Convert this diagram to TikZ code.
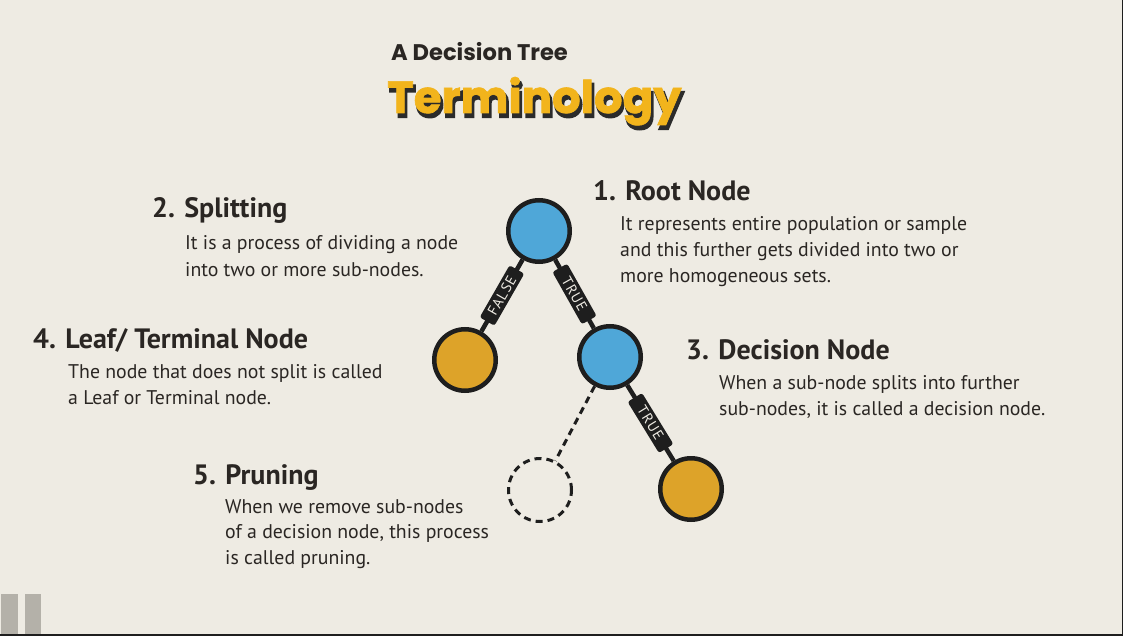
\documentclass[tikz,border=0pt]{standalone}
\usepackage{fontspec}
\setmainfont{PT Sans}
\newfontfamily\titlefont{Poppins}
\newfontfamily\termfont{Poppins}[BoldFeatures={FakeBold=1.5}]
\newfontfamily\termshadowfont{Poppins}[BoldFeatures={FakeBold=5}]
\newfontfamily\tagfont{PT Sans}[LetterSpace=7]
\usetikzlibrary{calc}

\definecolor{paper}{HTML}{EEEBE3}
\definecolor{ink}{HTML}{2A2623}
\definecolor{nodeblue}{HTML}{4FA7D8}
\definecolor{nodegold}{HTML}{DDA329}
\definecolor{titlegold}{HTML}{F2B41C}
\definecolor{edgeblack}{HTML}{1E1E1E}
\definecolor{shadowink}{HTML}{2B2B2B}
\definecolor{bargray}{HTML}{B4B1A9}

\begin{document}
\begin{tikzpicture}[x=1pt,y=-1pt,
  treenode/.style={circle, draw=edgeblack, line width=4.5pt, minimum size=61.5pt, inner sep=0pt},
  bluenode/.style={treenode, fill=nodeblue},
  goldnode/.style={treenode, fill=nodegold},
  prunednode/.style={circle, draw=edgeblack, line width=3pt, dash pattern=on 7pt off 5pt, minimum size=63pt, inner sep=0pt},
  branch/.style={draw=edgeblack, line width=4.5pt},
  cutbranch/.style={draw=edgeblack, line width=3pt, dash pattern=on 7pt off 5pt},
  branchlabel/.style={sloped, fill=edgeblack, text=paper, rounded corners=2.5pt,
    font=\tagfont\fontsize{14.5}{14.5}\selectfont, minimum width=60pt, minimum height=17pt, inner sep=0.5pt},
  heading/.style={anchor=base west, text=ink, inner sep=0pt, font=\bfseries\fontsize{28}{28}\selectfont},
  body/.style={anchor=base west, text=ink, inner sep=0pt, font=\fontsize{19.8}{19.8}\selectfont},
  termtext/.style={anchor=base west, inner sep=0pt},
]
% paper background and frame
\useasboundingbox (0,0) rectangle (1123,636);
\fill[paper] (0,0) rectangle (1123,636);
\fill[bargray] (1,594) rectangle (18,636);
\fill[bargray] (25,594) rectangle (41,636);
\draw[edgeblack, line width=2pt] (0,635) -- (1123,635);
\draw[edgeblack, line width=1.5pt] (1122.25,0) -- (1122.25,636);

% title
\node[anchor=base west, inner sep=0pt, text=ink, font=\titlefont\bfseries\fontsize{22.6}{22.6}\selectfont] (subtitle) at (391,61) {A Decision Tree};
\node[termtext, text=shadowink, font=\termshadowfont\bfseries\fontsize{45}{45}\selectfont] (titleshadow) at (389,117) {Terminology};
\node[termtext, text=titlegold, font=\termfont\bfseries\fontsize{45}{45}\selectfont] (title) at (387,113) {Terminology};

% tree
\node[bluenode] (root) at (539,231) {};
\node[goldnode] (falseleaf) at (465,360) {};
\node[bluenode] (decision) at (610,357) {};
\node[goldnode] (trueleaf) at (691,489) {};
\node[prunednode] (pruned) at (540,490) {};

\draw[branch] (root) -- node[branchlabel] (lblfalse) {FALSE} (falseleaf);
\draw[branch] (root) -- node[branchlabel] (lbltrue) {TRUE} (decision);
\draw[branch] (decision) -- node[branchlabel] (lbltrue2) {TRUE} (trueleaf);
\draw[cutbranch] (decision) -- (pruned);

% 1. Root Node
\node[heading] (h1) at (593,201) {1. Root Node};
\node[body] (b1a) at (620,230) {It represents entire population or sample};
\node[body] (b1b) at (620,256) {and this further gets divided into two or};
\node[body] (b1c) at (620,282) {more homogeneous sets.};

% 2. Splitting
\node[heading] (h2) at (152,218) {2. Splitting};
\node[body] (b2a) at (185,249) {It is a process of dividing a node};
\node[body] (b2b) at (185,276) {into two or more sub-nodes.};

% 3. Decision Node
\node[heading] (h3) at (686,359) {3. Decision Node};
\node[body] (b3a) at (719,389) {When a sub-node splits into further};
\node[body] (b3b) at (719,415) {sub-nodes, it is called a decision node.};

% 4. Leaf/ Terminal Node
\node[heading] (h4) at (33,348) {4. Leaf/ Terminal Node};
\node[body] (b4a) at (68,378) {The node that does not split is called};
\node[body] (b4b) at (68,404) {a Leaf or Terminal node.};

% 5. Pruning
\node[heading] (h5) at (193,484) {5. Pruning};
\node[body] (b5a) at (225,513) {When we remove sub-nodes};
\node[body] (b5b) at (225,538) {of a decision node, this process};
\node[body] (b5c) at (225,564) {is called pruning.};
\end{tikzpicture}
\end{document}
